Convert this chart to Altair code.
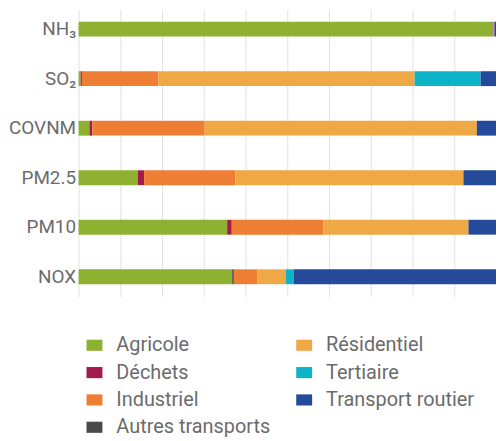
import altair as alt
import pandas as pd

pollutants = ["NH₃", "SO₂", "COVNM", "PM2.5", "PM10", "NOX"]
sectors = ["Agricole", "Déchets", "Autres transports", "Industriel",
           "Résidentiel", "Tertiaire", "Transport routier"]
colors = ["#8fb131", "#a31a4c", "#4a4a4c", "#ee7e33",
          "#eea844", "#0db3c7", "#254a99"]

agricole = [99.2, 0.5, 2.6, 14.2, 35.6, 36.8]
dechets = [0.1, 0.3, 0.7, 1.5, 1.1, 0.0]
autres_transports = [0.0, 0.0, 0.0, 0.0, 0.0, 0.4]
industriel = [0.2, 18.3, 26.9, 21.9, 22.0, 5.7]
residentiel = [0.1, 61.4, 65.2, 54.6, 34.7, 6.7]
tertiaire = [0.0, 15.8, 0.0, 0.0, 0.0, 1.9]
transport_routier = [0.4, 3.7, 4.6, 7.8, 6.6, 48.5]

series = [agricole, dechets, autres_transports, industriel,
          residentiel, tertiaire, transport_routier]

rows = []
for si, (name, vals) in enumerate(zip(sectors, series)):
    for p, v in zip(pollutants, vals):
        rows.append({"polluant": p, "secteur": name, "part": v, "ordre": si})
df = pd.DataFrame(rows)

# legend fills column by column: 4 rows in the first column, 3 in the second
legend_order = ["Agricole", "Déchets", "Industriel", "Autres transports",
                "Résidentiel", "Tertiaire", "Transport routier"]
color_map = dict(zip(sectors, colors))
legend_colors = [color_map[s] for s in legend_order]

gray = "#6b6b6d"
font = "Roboto"

chart = alt.Chart(df).mark_bar().encode(
    y=alt.Y("polluant:N", sort=pollutants, title=None,
            scale=alt.Scale(paddingInner=0.7, paddingOuter=0.25),
            axis=alt.Axis(ticks=False, domain=False, labelFont=font,
                          labelFontSize=19, labelColor=gray, labelPadding=3,
                          minExtent=68, maxExtent=68, grid=False)),
    x=alt.X("part:Q", stack="zero", title=None,
            scale=alt.Scale(domain=[0, 100], nice=False),
            axis=alt.Axis(labels=False, ticks=False, domain=False,
                          values=[0, 10, 20, 30, 40, 50, 60, 70, 80, 90, 100],
                          grid=True, gridColor="#e2e2e2", gridWidth=1)),
    color=alt.Color("secteur:N",
                    scale=alt.Scale(domain=legend_order, range=legend_colors),
                    legend=alt.Legend(
                        title=None, orient="none", legendX=6, legendY=328,
                        columns=2, columnPadding=24, rowPadding=7.5,
                        symbolType="M-1,-0.7L1,-0.7L1,0.7L-1,0.7Z",
                        symbolSize=256, symbolStrokeWidth=0,
                        labelFont=font, labelFontSize=20, labelColor=gray,
                        labelOffset=12, labelLimit=300)),
    order=alt.Order("ordre:Q", sort="ascending"),
).properties(
    width=420, height=289,
    padding={"left": 0, "top": 0, "right": 0, "bottom": 5},
).configure_view(stroke=None)

chart.save("out.html", embed_options={"renderer": "svg", "actions": False})
